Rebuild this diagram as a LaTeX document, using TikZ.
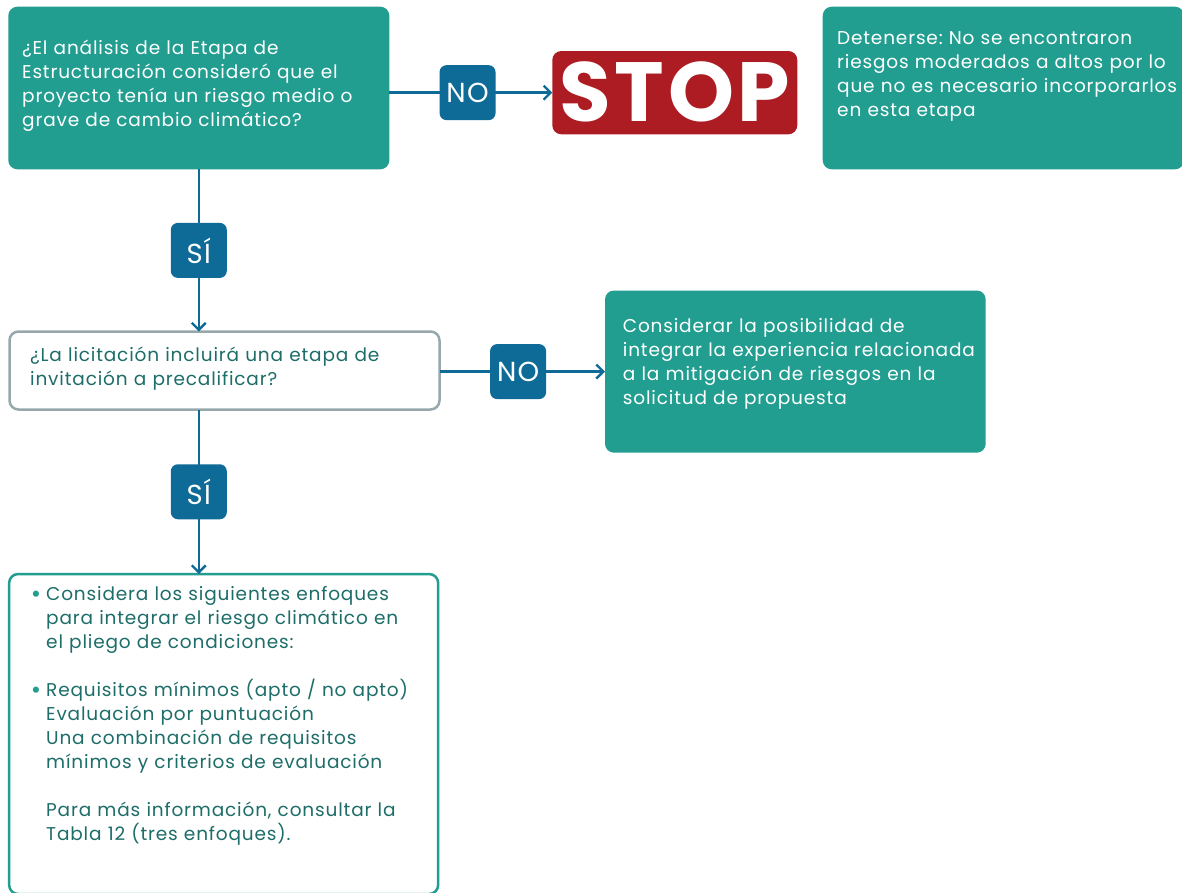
\documentclass[tikz,border=0pt]{standalone}
\usepackage{fontspec}
\setmainfont{Poppins}[LetterSpace=4.5]
\usetikzlibrary{arrows.meta}
\definecolor{teal1}{HTML}{229E91}
\definecolor{blue1}{HTML}{0E6B98}
\definecolor{red1}{HTML}{AD1C23}
\definecolor{gray1}{HTML}{97A8AD}
\definecolor{dark1}{HTML}{1D6D68}
\frenchspacing
\newcommand{\mybul}{\leavevmode\llap{\raisebox{-1.5pt}{\textcolor{teal1}{\fontsize{25}{24}\selectfont•}}\hspace{5pt}}}
\begin{document}
\begin{tikzpicture}[x=1pt,y=-1pt,
  box/.style={rounded corners=9pt, inner sep=0pt, outer sep=0pt, anchor=center},
  fillbox/.style={box, fill=teal1},
  txt/.style={inner sep=0pt, anchor=north west, align=left, text width=400pt, font=\fontsize{18.5}{24}\selectfont\frenchspacing},
  lab/.style={fill=blue1, rounded corners=7pt, minimum width=56pt, minimum height=55pt, inner sep=0pt, text=white, font=\fontsize{27.5}{27.5}\selectfont},
  conn/.style={draw=blue1, line width=2.4pt, -{Straight Barb[length=7pt,width=14pt]}}
]
\useasboundingbox (0,0) rectangle (1182,892);
\clip (0,0) rectangle (1182,892);
\fill[white] (0,0) rectangle (1182,892);
% boxes
\node[fillbox, minimum width=381pt, minimum height=162.6pt] (b1) at (198.8,88) {};
\node[box, fill=red1, minimum width=245pt, minimum height=83.3pt, text=white, font=\fontsize{84}{84}\selectfont\bfseries] (stop) at (674.8,92.65) {\raisebox{1.5pt}{STOP}};
\node[fillbox, minimum width=361.3pt, minimum height=162.6pt] (br) at (1003.35,88) {};
\node[box, draw=gray1, line width=2.5pt, fill=white, minimum width=430pt, minimum height=78pt] (b2) at (224.5,370.5) {};
\node[fillbox, minimum width=380.7pt, minimum height=162.2pt] (b3) at (795.35,371.6) {};
\node[box, draw=teal1, line width=2.5pt, fill=white, minimum width=429pt, minimum height=320pt] (b4) at (223.65,734) {};
% texts
\node[txt, text=white] (t1) at (22,36) {\rule{0pt}{18pt}¿El análisis de la Etapa de\\Estructuración consideró que el\\proyecto tenía un riesgo medio o\\grave de cambio climático?};
\node[txt, text=white] (tr) at (837,26.3) {\rule{0pt}{18pt}Detenerse: No se encontraron\\riesgos moderados a altos por lo\\que no es necesario incorporarlos\\en esta etapa};
\node[txt, text=dark1] (t2) at (30,343.7) {\rule{0pt}{18pt}¿La licitación incluirá una etapa de\\invitación a precalificar?};
\node[txt, text=white] (t3) at (622.7,314.3) {\rule{0pt}{18pt}Considerar la posibilidad de\\integrar la experiencia relacionada\\a la mitigación de riesgos en la\\solicitud de propuesta};
\node[txt, text=dark1] (t4) at (46,582.7) {\leavevmode\rule{0pt}{18pt}\mybul Considera los siguientes enfoques\\para integrar el riesgo climático en\\el pliego de condiciones:\\[24pt]\mybul Requisitos mínimos (apto / no apto)\\Evaluación por puntuación\\Una combinación de requisitos\\mínimos y criterios de evaluación\\[24pt]Para más información, consultar la\\Tabla 12 (tres enfoques).};
% connectors
\draw[conn] (b1.east |- stop.west) -- node[lab, pos=0.48] (no1) {NO} (stop.west);
\draw[conn] (b1.south) -- node[lab] (si1) {SÍ} (b1.south |- b2.north);
\draw[conn] (b2.east |- b3.west) -- node[lab, pos=0.475] (no2) {NO} (b3.west);
\draw[conn] (b1.south |- b2.south) -- node[lab] (si2) {SÍ} (b1.south |- b4.north);
\end{tikzpicture}
\end{document}
